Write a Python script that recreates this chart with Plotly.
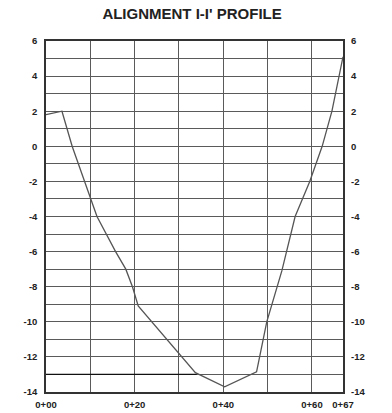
import plotly.graph_objects as go

# Profile data (station in ft from 0+00, elevation)
station = [0, 3.6, 5.9, 10, 11.5, 15.7, 18, 19.5, 20.8, 33.7, 40.3, 47.5, 49.8, 53.2, 54.3, 56.2, 59.5, 62.3, 64.5, 67]
elev = [1.8, 2.0, 0.0, -3.0, -4.0, -6.0, -7.0, -8.0, -9.1, -12.9, -13.7, -12.85, -10.0, -7.1, -6.0, -4.0, -2.0, 0.0, 2.0, 5.1]

# Dark horizontal reference line
ref_x = [0, 34]
ref_y = [-13, -13]

x_tickvals = [0, 20, 40, 60, 67]
x_ticktext = ["0+00", "0+20", "0+40", "0+60", "0+67"]
y_tickvals = [6, 4, 2, 0, -2, -4, -6, -8, -10, -12, -14]
y_ticktext = ["6", "4", "2", "0", "-2", "-4", "-6", "-8", "-10", "-12", "-14"]

FONT = "Liberation Sans, Arial, sans-serif"
grid_col = "#5a5a5a"
tfont = dict(family=FONT, size=9.5, color="#222222", weight="bold")

fig = go.Figure()
fig.add_trace(go.Scatter(x=ref_x, y=ref_y, mode="lines",
                         line=dict(color="#111111", width=1.2), showlegend=False))
fig.add_trace(go.Scatter(x=station, y=elev, mode="lines",
                         line=dict(color="#555555", width=1.3), showlegend=False))
# invisible trace on right axis to show it
fig.add_trace(go.Scatter(x=[0], y=[0], yaxis="y2", mode="lines",
                         line=dict(width=0), showlegend=False, hoverinfo="skip"))

fig.update_layout(
    width=392, height=413,
    margin=dict(l=46, r=49, t=41, b=21),
    paper_bgcolor="white", plot_bgcolor="white",
    title=dict(text="ALIGNMENT I-I' PROFILE", x=0.49, xanchor="center", y=0.967, yanchor="middle",
               font=dict(family=FONT, size=15, color="#222222", weight="bold")),
    xaxis=dict(range=[0, 67], tickmode="array", tickvals=x_tickvals, ticktext=x_ticktext,
               showgrid=True, gridcolor=grid_col, gridwidth=1.2, automargin=False,
               minor=dict(dtick=10, tick0=0, showgrid=True, gridcolor=grid_col, gridwidth=1.2),
               showline=True, linecolor="#333333", linewidth=1.5, mirror=True,
               zeroline=False, ticks="", ticklabelstandoff=3, tickfont=tfont),
    yaxis=dict(range=[-14, 6], tickmode="array", tickvals=y_tickvals, ticktext=y_ticktext,
               showgrid=True, gridcolor=grid_col, gridwidth=1.1, automargin=False,
               minor=dict(dtick=1, tick0=0, showgrid=True, gridcolor=grid_col, gridwidth=1.1),
               showline=True, linecolor="#333333", linewidth=1.5, mirror=True,
               zeroline=False, ticks="", ticklabelstandoff=5, tickfont=tfont),
    yaxis2=dict(range=[-14, 6], tickmode="array", tickvals=y_tickvals, ticktext=y_ticktext,
                overlaying="y", side="right", automargin=False,
                showgrid=False, zeroline=False, ticks="", ticklabelstandoff=7, tickfont=tfont),
)

fig.write_html("out.html", config={"displayModeBar": False},
               post_script="document.body.style.margin='0';document.body.style.overflow='hidden';")
